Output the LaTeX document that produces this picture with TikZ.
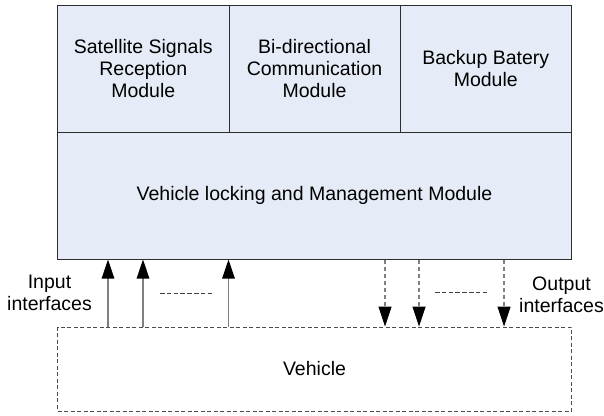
\documentclass[tikz,border=0pt]{standalone}
\usepackage{fontspec}
\setmainfont{Liberation Sans}
\usetikzlibrary{arrows.meta}
\definecolor{boxfill}{RGB}{230,236,247}
\definecolor{boxline}{RGB}{45,45,45}
\definecolor{shaft}{RGB}{128,128,128}
\tikzset{
  modbox/.style={draw=boxline, line width=1pt, fill=boxfill, inner sep=0pt, align=center,
    font=\fontsize{19.5}{21.8}\selectfont},
  vehbox/.style={draw=black!70, line width=0.9pt, dash pattern=on 4pt off 2.5pt, inner sep=0pt,
    font=\fontsize{19.5}{21.8}\selectfont},
  inarrow/.style={draw=shaft, line width=1.3pt, -{Triangle[length=19pt,width=12.5pt,black]}},
  outarrow/.style={draw=shaft, line width=1.1pt, dash pattern=on 4pt off 3pt, -{Triangle[length=20pt,width=13pt,black]}},
  sepdash/.style={draw=black!75, line width=0.8pt, dash pattern=on 4.5pt off 2.3pt},
  lbl/.style={align=center, inner sep=0pt, font=\fontsize{19.5}{22.4}\selectfont}
}
\begin{document}
\begin{tikzpicture}[x=1pt,y=-1pt]
\useasboundingbox (0,0) rectangle (604,415);
% top modules
\node[modbox, minimum width=171.5pt, minimum height=127pt] (sat) at (143.25,68.5)
  {Satellite Signals\\Reception\\Module};
\node[modbox, minimum width=171pt, minimum height=127pt] (bid) at (314.5,68.5)
  {Bi-directional\\Communication\\Module};
\node[modbox, minimum width=171.5pt, minimum height=127pt] (bat) at (485.75,68.5)
  {Backup Batery\\Module};
% main module
\node[modbox, minimum width=514pt, minimum height=127pt] (main) at (314.5,195.5)
  {Vehicle locking and Management Module};
% vehicle
\node[vehbox, minimum width=514pt, minimum height=84pt] (veh) at (314.5,369)
  {Vehicle};
% arrow positions
\coordinate (i1) at (108,0);
\coordinate (i2) at (143,0);
\coordinate (i3) at (228.5,0);
\coordinate (o1) at (385,0);
\coordinate (o2) at (419,0);
\coordinate (o3) at (504,0);
\draw[inarrow] (veh.north -| i1) -- (main.south -| i1);
\draw[inarrow] (veh.north -| i2) -- (main.south -| i2);
\draw[inarrow] (veh.north -| i3) -- (main.south -| i3);
\draw[outarrow] (main.south -| o1) -- (veh.north -| o1);
\draw[outarrow] (main.south -| o2) -- (veh.north -| o2);
\draw[outarrow] (main.south -| o3) -- (veh.north -| o3);
% separators
\coordinate (sl1) at (160,293);
\coordinate (sl2) at (212,293);
\coordinate (sr1) at (435,292);
\coordinate (sr2) at (487,292);
\draw[sepdash] (sl1) -- (sl2);
\draw[sepdash] (sr1) -- (sr2);
% labels
\node[lbl] (inlbl) at (49.5,293) {Input\\interfaces};
\node[lbl] (outlbl) at (561.5,294.5) {Output\\interfaces};
\end{tikzpicture}
\end{document}
